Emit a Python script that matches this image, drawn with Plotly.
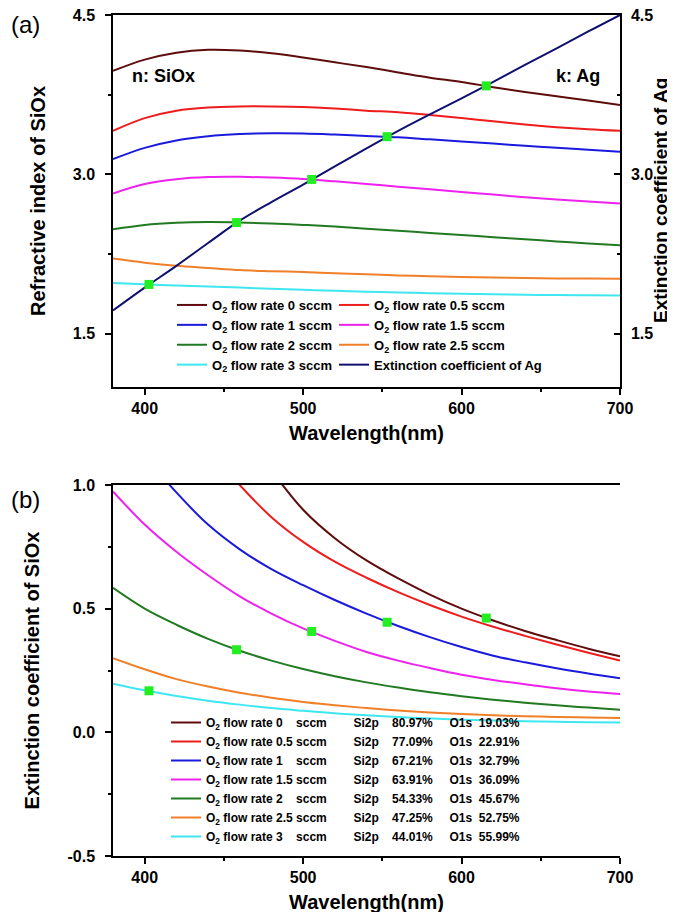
import plotly.graph_objects as go

# ---------------- data ----------------
wavelength = [380, 400, 420, 440, 460, 480, 500, 520, 540, 560, 580, 600, 620, 640, 660, 680, 700]

rates = ["0", "0.5", "1", "1.5", "2", "2.5", "3"]
colors = ["#5e0c0c", "#ee1c1c", "#1a1adc", "#ee22ee", "#217a21", "#f07f2a", "#3ee6f0"]
ag_color = "#101070"
marker_color = "#22ee22"

# refractive index n of SiOx (panel a)
n_0 = [3.974, 4.08, 4.145, 4.172, 4.165, 4.14, 4.10, 4.055, 4.01, 3.96, 3.91, 3.87, 3.82, 3.775, 3.735, 3.695, 3.654]
n_05 = [3.41, 3.53, 3.60, 3.63, 3.64, 3.64, 3.635, 3.62, 3.60, 3.585, 3.56, 3.53, 3.50, 3.47, 3.445, 3.425, 3.41]
n_1 = [3.144, 3.25, 3.32, 3.36, 3.38, 3.387, 3.385, 3.375, 3.362, 3.35, 3.33, 3.31, 3.29, 3.27, 3.25, 3.232, 3.214]
n_15 = [2.821, 2.91, 2.955, 2.975, 2.977, 2.97, 2.957, 2.935, 2.91, 2.885, 2.86, 2.835, 2.81, 2.785, 2.765, 2.745, 2.726]
n_2 = [2.484, 2.525, 2.545, 2.552, 2.548, 2.538, 2.525, 2.51, 2.49, 2.47, 2.45, 2.43, 2.41, 2.39, 2.37, 2.35, 2.333]
n_25 = [2.208, 2.17, 2.14, 2.12, 2.10, 2.09, 2.082, 2.07, 2.06, 2.05, 2.043, 2.036, 2.03, 2.026, 2.022, 2.02, 2.019]
n_3 = [1.978, 1.966, 1.955, 1.945, 1.935, 1.925, 1.915, 1.905, 1.897, 1.89, 1.883, 1.877, 1.872, 1.868, 1.865, 1.863, 1.861]
n_series = [n_0, n_05, n_1, n_15, n_2, n_25, n_3]

# extinction coefficient of Ag (panel a, right axis)
k_ag = [1.72, 1.935, 2.14, 2.355, 2.565, 2.74, 2.905, 3.075, 3.245, 3.41, 3.565, 3.715, 3.87, 4.03, 4.185, 4.345, 4.5]

# extinction coefficient k of SiOx (panel b); values above 1.0 run off the top of the frame
k_0 = [None, None, None, None, 1.25, 1.06, 0.90, 0.785, 0.695, 0.622, 0.557, 0.50, 0.452, 0.41, 0.373, 0.338, 0.307]
k_05 = [None, None, 1.32, 1.15, 1.00, 0.87, 0.77, 0.69, 0.625, 0.567, 0.515, 0.468, 0.427, 0.39, 0.355, 0.322, 0.29]
k_1 = [1.30, 1.12, 0.97, 0.84, 0.74, 0.66, 0.595, 0.535, 0.48, 0.43, 0.385, 0.345, 0.31, 0.283, 0.259, 0.238, 0.219]
k_15 = [0.974, 0.84, 0.73, 0.635, 0.55, 0.48, 0.42, 0.37, 0.325, 0.29, 0.26, 0.233, 0.212, 0.194, 0.178, 0.165, 0.155]
k_2 = [0.584, 0.50, 0.435, 0.378, 0.33, 0.29, 0.256, 0.227, 0.202, 0.181, 0.162, 0.146, 0.132, 0.12, 0.109, 0.10, 0.091]
k_25 = [0.30, 0.255, 0.215, 0.185, 0.16, 0.14, 0.123, 0.11, 0.098, 0.088, 0.08, 0.074, 0.069, 0.065, 0.062, 0.06, 0.058]
k_3 = [0.197, 0.17, 0.147, 0.128, 0.112, 0.098, 0.087, 0.077, 0.069, 0.062, 0.056, 0.051, 0.048, 0.045, 0.043, 0.041, 0.040]
k_series = [k_0, k_05, k_1, k_15, k_2, k_25, k_3]

# crossing points marked with green squares
mark_wl = [402.7, 458, 505.4, 553, 615.6]
mark_n = [1.965, 2.547, 2.953, 3.355, 3.833]
mark_k = [0.168, 0.334, 0.408, 0.445, 0.462]

# XPS composition
si2p = ["80.97", "77.09", "67.21", "63.91", "54.33", "47.25", "44.01"]
o1s = ["19.03", "22.91", "32.79", "36.09", "45.67", "52.75", "55.99"]

# tick labels
x_ticks = [400, 500, 600, 700]
x_minor = [450, 550, 650]
n_ticks = [1.5, 3.0, 4.5]
n_ticktext = ["1.5", "3.0", "4.5"]
n_minor = [2.25, 3.75]
k_ticks = [-0.5, 0.0, 0.5, 1.0]
k_ticktext = ["-0.5", "0.0", "0.5", "1.0"]
k_minor = [-0.25, 0.25, 0.75]

# ---------------- figure ----------------
FONT = "Liberation Sans, Arial, sans-serif"
NB = "\u00a0"

fig = go.Figure()

# panel (a): left legend column = integer rates, right column = half rates + Ag
for i, (rate, col, ys) in enumerate(zip(rates, colors, n_series)):
    fig.add_trace(go.Scatter(
        x=wavelength, y=ys, mode="lines", line=dict(color=col, width=2, shape="spline"),
        name=f"O<sub>2</sub> flow rate {rate} sccm", xaxis="x", yaxis="y",
        legend="legend" if i % 2 == 0 else "legend3"))
fig.add_trace(go.Scatter(
    x=wavelength, y=k_ag, mode="lines", line=dict(color=ag_color, width=2, shape="spline"),
    name="Extinction coefficient of Ag", xaxis="x", yaxis="y2", legend="legend3"))
fig.add_trace(go.Scatter(
    x=mark_wl, y=mark_n, mode="markers", marker=dict(symbol="square", size=9, color=marker_color),
    showlegend=False, xaxis="x", yaxis="y2"))

# panel (b)
for rate, col, ys, s, o in zip(rates, colors, k_series, si2p, o1s):
    pad = NB * (1 if "." in rate else 4)
    label = (f"O<sub>2</sub> flow rate {rate}{pad}sccm" + NB * 8 + "Si2p" + NB * 4 + f"{s}%"
             + NB * 5 + "O1s" + NB * 2 + f"{o}%")
    fig.add_trace(go.Scatter(
        x=wavelength, y=ys, mode="lines", line=dict(color=col, width=2, shape="spline"),
        name=label, xaxis="x2", yaxis="y3", legend="legend2"))
fig.add_trace(go.Scatter(
    x=mark_wl, y=mark_k, mode="markers", marker=dict(symbol="square", size=9, color=marker_color),
    showlegend=False, xaxis="x2", yaxis="y3"))

tickfont = dict(family=FONT, size=16, color="black", weight="bold")
titlefont = dict(family=FONT, size=20, color="black", weight="bold")

def xax(anchor):
    return dict(anchor=anchor, domain=[0, 1], range=[380, 700], tickvals=x_ticks,
                showline=True, linecolor="black", linewidth=1.5, mirror=True,
                ticks="outside", ticklen=6, tickwidth=1.5, tickcolor="black",
                minor=dict(tickvals=x_minor, ticks="outside", ticklen=3, tickwidth=1.5, tickcolor="black"),
                showgrid=False, zeroline=False, tickfont=tickfont, ticklabeloverflow="allow",
                title=dict(text="Wavelength(nm)", font=titlefont, standoff=10))

def yax(domain, rng, tv, tt, minor_tv, title, side="left", overlay=None, anchor="x", standoff=22):
    d = dict(domain=domain, range=rng, tickmode="array", tickvals=tv, ticktext=tt, side=side, anchor=anchor,
             showline=True, linecolor="black", linewidth=1.5,
             ticks="outside" if side == "left" else "inside", ticklen=6, tickwidth=1.5, tickcolor="black",
             minor=dict(tickvals=minor_tv, ticks="outside" if side == "left" else "inside",
                        ticklen=3, tickwidth=1.5, tickcolor="black"),
             showgrid=False, zeroline=False, tickfont=tickfont, ticklabeloverflow="allow",
             ticklabelstandoff=7 if side == "left" else 6,
             title=dict(text=title, font=titlefont, standoff=standoff))
    if overlay:
        d["overlaying"] = overlay
    return d

top_dom = [(848 - 379) / 841, 1.0]
bot_dom = [0.0, (848 - 477) / 841]

legfont13 = dict(family=FONT, size=13, color="black", weight="bold")
legfont12 = dict(family=FONT, size=12, color="black", weight="bold")

fig.update_layout(
    width=675, height=912,
    margin=dict(l=105, r=63, t=7, b=64, autoexpand=False),
    paper_bgcolor="white", plot_bgcolor="white",
    font=dict(family=FONT, color="black"),
    xaxis=xax("y"),
    xaxis2=xax("y3"),
    yaxis=yax(top_dom, [1.0, 4.5], n_ticks, n_ticktext, n_minor, "Refractive index of SiOx"),
    yaxis2=yax(top_dom, [1.0, 4.5], n_ticks, n_ticktext, n_minor, "",
               side="right", overlay="y"),
    yaxis3=yax(bot_dom, [-0.5, 1.0], k_ticks, k_ticktext, k_minor,
               "Extinction coefficient of SiOx", anchor="x2"),
    yaxis4=yax(bot_dom, [-0.5, 1.0], k_ticks, k_ticktext, k_minor, "",
               side="right", overlay="y3", anchor="x2"),
    legend=dict(orientation="v", x=(164 - 105) / 507, xanchor="left", y=(848 - 282) / 841, yanchor="top",
                itemwidth=30, traceorder="normal", bgcolor="rgba(0,0,0,0)", borderwidth=0, font=legfont13),
    legend3=dict(orientation="v", x=(326 - 105) / 507, xanchor="left", y=(848 - 282) / 841, yanchor="top",
                 itemwidth=30, traceorder="normal", bgcolor="rgba(0,0,0,0)", borderwidth=0, font=legfont13),
    legend2=dict(orientation="v", x=(158 - 105) / 507, xanchor="left", y=(848 - 700) / 841, yanchor="top",
                 itemwidth=30, traceorder="normal", bgcolor="rgba(0,0,0,0)", borderwidth=0, font=legfont12),
    annotations=[
        dict(text="(a)", xref="paper", yref="paper", x=(17 - 105) / 507, y=(848 - 17) / 841,
             xanchor="center", yanchor="middle", showarrow=False, font=dict(family=FONT, size=24, color="black")),
        dict(text="(b)", xref="paper", yref="paper", x=(17 - 105) / 507, y=(848 - 492) / 841,
             xanchor="center", yanchor="middle", showarrow=False, font=dict(family=FONT, size=24, color="black")),
        dict(text="n: SiOx", xref="x", yref="y", x=391, y=3.925, xanchor="left", yanchor="middle",
             showarrow=False, font=dict(family=FONT, size=18, color="black", weight="bold")),
        dict(text="k: Ag", xref="x", yref="y", x=688.7, y=3.925, xanchor="right", yanchor="middle",
             showarrow=False, font=dict(family=FONT, size=18, color="black", weight="bold")),
        dict(text="Extinction coefficient of Ag", xref="paper", yref="paper",
             x=(652 - 105) / 507, y=(top_dom[0] + top_dom[1]) / 2, textangle=-90,
             xanchor="center", yanchor="middle", showarrow=False,
             font=dict(family=FONT, size=19, color="black", weight="bold")),
    ],
)

fig.write_html("out.html")
